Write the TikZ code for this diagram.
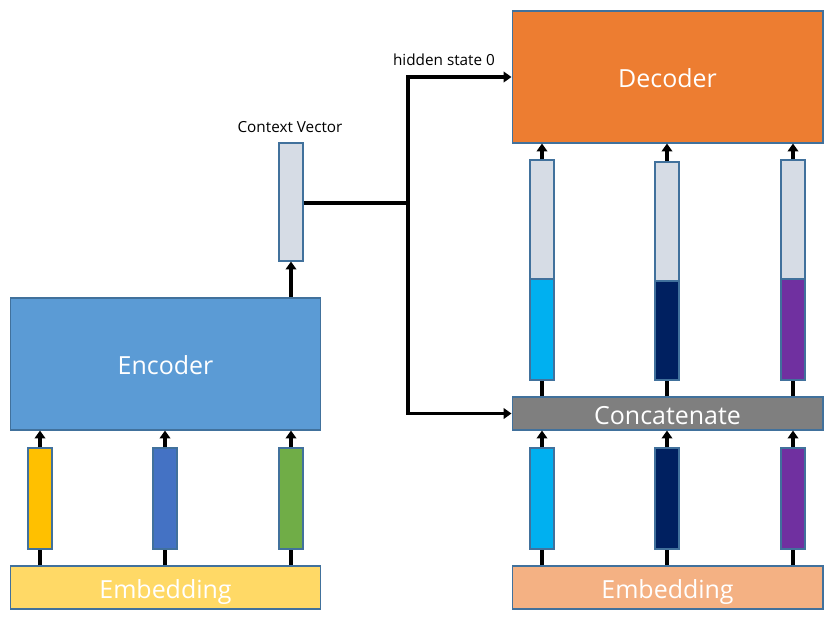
\documentclass[tikz,border=0pt]{standalone}
\usepackage{fontspec}
\setmainfont{Open Sans}
\usetikzlibrary{arrows.meta}
\definecolor{edgeblue}{HTML}{41719C}
\definecolor{encblue}{HTML}{5B9BD5}
\definecolor{decorange}{HTML}{ED7D31}
\definecolor{embyellow}{HTML}{FFD966}
\definecolor{embpeach}{HTML}{F4B183}
\definecolor{catgray}{HTML}{7F7F7F}
\definecolor{vgray}{HTML}{D6DCE5}
\definecolor{vyellow}{HTML}{FFC000}
\definecolor{vblue}{HTML}{4472C4}
\definecolor{vgreen}{HTML}{70AD47}
\definecolor{vcyan}{HTML}{00B0F0}
\definecolor{vnavy}{HTML}{002060}
\definecolor{vpurple}{HTML}{7030A0}
\begin{document}
\begin{tikzpicture}[x=0.02cm,y=-0.02cm,
    box/.style={draw=edgeblue,line width=0.6pt,inner sep=0pt},
    big/.style={box,minimum width=6.22cm,text=white,font=\fontsize{14.2}{17}\selectfont,
      text height=12pt,text depth=0pt},
    vec/.style={box,minimum width=0.48cm,minimum height=2.02cm},
    small/.style={font=\fontsize{8.7}{10}\selectfont},
    ln/.style={line width=1.8pt},
    arr/.style={ln,-{Triangle[length=4.5pt,width=6pt]}}]
      \path[use as bounding box] (0,0) rectangle (832,623);
      % encoder side
      \node[big,fill=encblue,minimum height=2.64cm] at (165.5,364) (enc) {Encoder};
      \node[big,fill=embyellow,minimum height=0.86cm] at (165.5,587.5) (embL) {Embedding};
      \node[vec,fill=vyellow] at (40,498.5) (x1) {};
      \node[vec,fill=vblue] at (165,498.5) (x2) {};
      \node[vec,fill=vgreen] at (291,498.5) (x3) {};
      \path[draw,ln] (embL.north -| x1) -- (x1.south);
      \path[draw,ln] (embL.north -| x2) -- (x2.south);
      \path[draw,ln] (embL.north -| x3) -- (x3.south);
      \path[draw,arr] (x1.north) -- (enc.south -| x1);
      \path[draw,arr] (x2.north) -- (enc.south -| x2);
      \path[draw,arr] (x3.north) -- (enc.south -| x3);
      % context vector
      \node[box,fill=vgray,minimum width=0.48cm,minimum height=2.36cm] at (291,202) (ctx) {};
      \node[small] at (290,127) (ctxlabel) {Context Vector};
      \path[draw,arr] (enc.north -| ctx) -- (ctx.south);
      % decoder side
      \node[big,fill=decorange,minimum height=2.64cm] at (667.5,77) (dec) {Decoder};
      \node[big,fill=catgray,minimum height=0.66cm] at (667.5,413.5) (cat) {Concatenate};
      \node[big,fill=embpeach,minimum height=0.86cm] at (667.5,587.5) (embR) {Embedding};
      \node[vec,fill=vcyan] at (542,498.5) (y1) {};
      \node[vec,fill=vnavy] at (667,498.5) (y2) {};
      \node[vec,fill=vpurple] at (793,498.5) (y3) {};
      \path[draw,ln] (embR.north -| y1) -- (y1.south);
      \path[draw,ln] (embR.north -| y2) -- (y2.south);
      \path[draw,ln] (embR.north -| y3) -- (y3.south);
      \path[draw,arr] (y1.north) -- (cat.south -| y1);
      \path[draw,arr] (y2.north) -- (cat.south -| y2);
      \path[draw,arr] (y3.north) -- (cat.south -| y3);
      % concatenated vectors
      \node[vec,fill=vcyan] at (542,329.5) (h1) {};
      \node[box,fill=vgray,minimum width=0.48cm,minimum height=2.38cm] at (542,219.5) (g1) {};
      \node[vec,fill=vnavy,minimum height=1.98cm] at (667,330.5) (h2) {};
      \node[box,fill=vgray,minimum width=0.48cm,minimum height=2.38cm] at (667,221.5) (g2) {};
      \node[vec,fill=vpurple] at (793,329.5) (h3) {};
      \node[box,fill=vgray,minimum width=0.48cm,minimum height=2.38cm] at (793,219.5) (g3) {};
      \path[draw,ln] (cat.north -| h1) -- (h1.south);
      \path[draw,ln] (cat.north -| h2) -- (h2.south);
      \path[draw,ln] (cat.north -| h3) -- (h3.south);
      \path[draw,arr] (g1.north) -- (dec.south -| g1);
      \path[draw,arr] (g2.north) -- (dec.south -| g2);
      \path[draw,arr] (g3.north) -- (dec.south -| g3);
      % context to decoder
      \coordinate (split) at (408,203);
      \path[draw,ln] (ctx.east |- split) -- (split);
      \path[draw,arr] (split) |- (dec.west);
      \path[draw,arr] (split) |- (cat.west);
      \node[small] at (444,60) (hslabel) {hidden state 0};
    \end{tikzpicture}
\end{document}
